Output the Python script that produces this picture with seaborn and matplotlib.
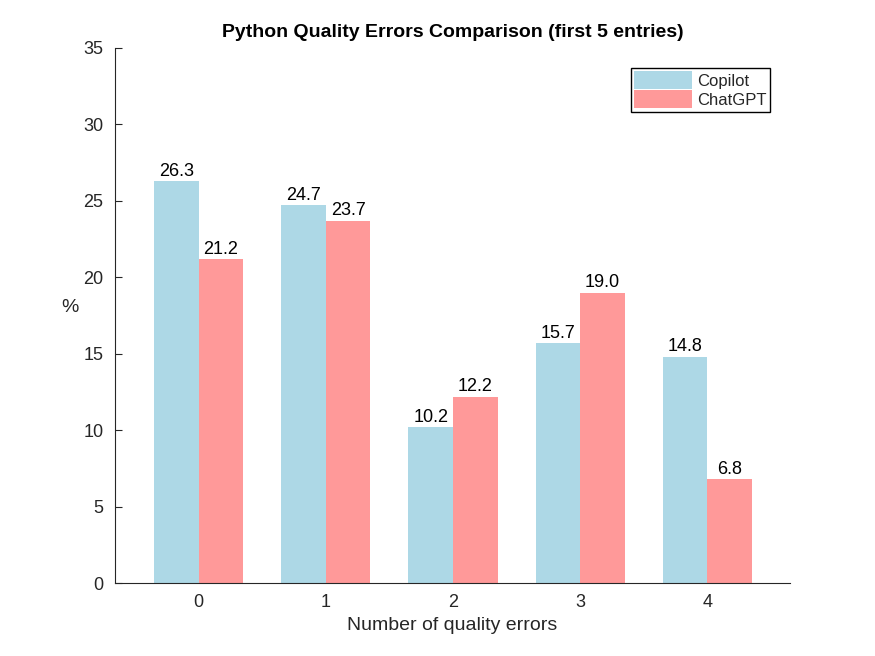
import pandas as pd
import matplotlib
matplotlib.use('Agg')
import matplotlib.pyplot as plt
import seaborn as sns

errors = [0, 1, 2, 3, 4]
copilot = [26.3, 24.7, 10.2, 15.7, 14.8]
chatgpt = [21.2, 23.7, 12.2, 19.0, 6.8]

df = pd.DataFrame({
    'errors': errors * 2,
    'pct': copilot + chatgpt,
    'tool': ['Copilot'] * 5 + ['ChatGPT'] * 5,
})

sns.set_style('white')
plt.rcParams['font.family'] = ['Liberation Sans', 'DejaVu Sans']

fig = plt.figure(figsize=(8.75, 6.56), dpi=100)
ax = fig.add_axes([0.131, 0.111, 0.772, 0.816])
sns.barplot(data=df, x='errors', y='pct', hue='tool', width=0.7,
            palette=['#ADD8E6', '#FF9999'], saturation=1, edgecolor='none',
            linewidth=0, ax=ax)

for c in ax.containers:
    ax.bar_label(c, fmt='%.1f', fontsize=13, padding=1, color='black')

ax.set_ylim(0, 35)
ax.set_yticks(range(0, 36, 5))
ax.set_xlim(-0.66, 4.65)
ax.tick_params(direction='in', labelsize=13, length=5, pad=8, left=True, bottom=True,
               colors='#262626')
for s in ['top', 'right']:
    ax.spines[s].set_visible(False)
for s in ['left', 'bottom']:
    ax.spines[s].set_color('#262626')
ax.set_xlabel('Number of quality errors', fontsize=14, color='#262626', labelpad=4)
ax.set_ylabel('%', fontsize=14, rotation=0, color='#262626', labelpad=10)
ax.set_title('Python Quality Errors Comparison (first 5 entries)', fontsize=14,
             fontweight='bold', color='black', pad=8)
leg = ax.legend(loc='upper right', fontsize=12, fancybox=False, edgecolor='black',
                framealpha=1, borderaxespad=1.2, handlelength=3.5, handleheight=1.3,
                handletextpad=0.3, borderpad=0.2, labelspacing=0.05)
leg.set_title(None)

fig.savefig('out.png', dpi=100)
